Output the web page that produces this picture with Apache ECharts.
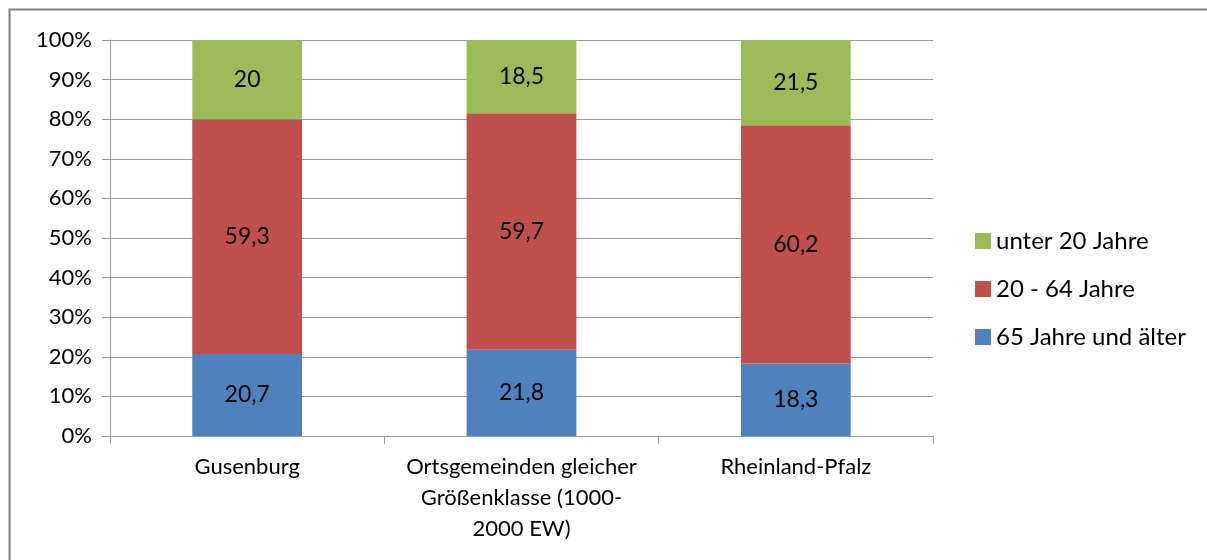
<!DOCTYPE html>
<html>
<head>
<meta charset="utf-8">
<script src="https://cdn.jsdelivr.net/npm/echarts@6/dist/echarts.min.js"></script>
<style>
  html, body { margin: 0; padding: 0; background: #fff; }
  #chart { width: 1207px; height: 560px; }
</style>
</head>
<body>
<div id="chart"></div>
<script>
	// Daten
	var categories = ['Gusenburg', 'Ortsgemeinden gleicher\nGrößenklasse (1000-\n2000 EW)', 'Rheinland-Pfalz'];
	var seriesNames = ['65 Jahre und älter', '20 - 64 Jahre', 'unter 20 Jahre'];
	var alt65 = [20.7, 21.8, 18.3];
	var mitte = [59.3, 59.7, 60.2];
	var unter20 = [20, 18.5, 21.5];
	var yTicks = [0, 10, 20, 30, 40, 50, 60, 70, 80, 90, 100];

	var myChart = echarts.init(document.getElementById('chart'));
	var font = 'Lato';
	var grau = '#9a9a9a';

	function barLabel() {
		return {
			show: true,
			position: 'inside',
			color: '#000',
			fontFamily: font,
			fontSize: 23,
			formatter: function (p) { return String(p.value).replace('.', ','); }
		};
	}

	var option = {
		animation: false,
		color: ['#4F81BD', '#C0504D', '#9BBB59'],
		textStyle: { fontFamily: font },
		graphic: [{
			type: 'rect',
			shape: { x: 9.5, y: 9.5, width: 1220, height: 580 },
			style: { fill: 'none', stroke: '#7f7f7f', lineWidth: 2 },
			z: -1
		}],
		grid: { left: 110, right: 274, top: 40, bottom: 124 },
		legend: {
			orient: 'vertical',
			left: 975,
			top: 229,
			padding: 0,
			itemWidth: 16,
			itemHeight: 16,
			itemGap: 24,
			icon: 'rect',
			textStyle: { fontFamily: font, fontSize: 24, color: '#000', lineHeight: 24 },
			data: [seriesNames[2], seriesNames[1], seriesNames[0]]
		},
		xAxis: {
			type: 'category',
			data: categories,
			axisLine: { lineStyle: { color: grau } },
			axisTick: { show: true, length: 8, lineStyle: { color: grau } },
			axisLabel: { interval: 0, color: '#000', fontFamily: font, fontSize: 22, lineHeight: 31, margin: 15 }
		},
		yAxis: {
			type: 'value',
			min: yTicks[0],
			max: yTicks[yTicks.length - 1],
			interval: 10,
			axisLine: { show: true, lineStyle: { color: grau } },
			axisTick: { show: true, length: 8, lineStyle: { color: grau } },
			splitLine: { lineStyle: { color: grau } },
			axisLabel: { color: '#000', fontFamily: font, fontSize: 22, margin: 18, formatter: '{value}%' }
		},
		series: [
			{ name: seriesNames[0], type: 'bar', stack: 'a', barWidth: '40%', label: barLabel(), data: alt65 },
			{ name: seriesNames[1], type: 'bar', stack: 'a', barWidth: '40%', label: barLabel(), data: mitte },
			{ name: seriesNames[2], type: 'bar', stack: 'a', barWidth: '40%', label: barLabel(), data: unter20 }
		]
	};

	myChart.setOption(option);
</script>
</body>
</html>
